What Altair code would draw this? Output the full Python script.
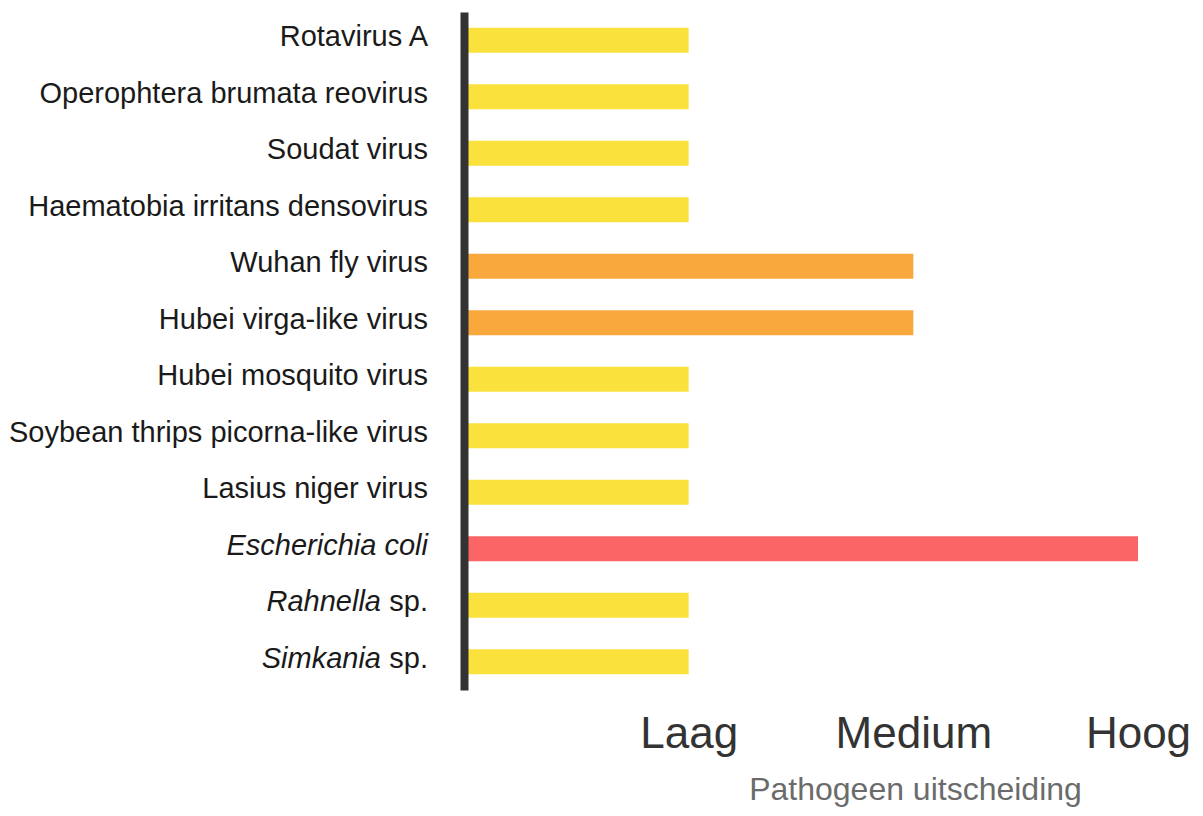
import altair as alt
import pandas as pd

# ---- data ----
categories = [
    "Rotavirus A", "Operophtera brumata reovirus", "Soudat virus",
    "Haematobia irritans densovirus", "Wuhan fly virus", "Hubei virga-like virus",
    "Hubei mosquito virus", "Soybean thrips picorna-like virus", "Lasius niger virus",
    "Escherichia coli", "Rahnella sp.", "Simkania sp.",
]
italic_part = ["", "", "", "", "", "", "", "", "", "Escherichia coli", "Rahnella", "Simkania"]
plain_part = [
    "Rotavirus A", "Operophtera brumata reovirus", "Soudat virus",
    "Haematobia irritans densovirus", "Wuhan fly virus", "Hubei virga-like virus",
    "Hubei mosquito virus", "Soybean thrips picorna-like virus", "Lasius niger virus",
    "", "sp.", "sp.",
]
levels = [1, 1, 1, 1, 2, 2, 1, 1, 1, 3, 1, 1]
level_labels = ["Laag", "Medium", "Hoog"]
level_colors = ["#FAE13C", "#F9A83E", "#FB6566"]

df = pd.DataFrame({
    "name": categories,
    "italic": italic_part,
    "plain": plain_part,
    "level": levels,
    "levelName": [level_labels[v - 1] for v in levels],
})

font = "Liberation Sans"
fsize = 29
yscale = alt.Scale(domain=categories, paddingInner=0, paddingOuter=0)

bars = alt.Chart(df).mark_bar(size=25).encode(
    x=alt.X(
        "level:Q",
        scale=alt.Scale(domain=[0, 3], nice=False, zero=True),
        axis=alt.Axis(
            values=[1, 2, 3],
            labelExpr="['" + "','".join(level_labels) + "'][datum.value - 1]",
            domain=False, ticks=False, grid=False,
            labelFont=font, labelFontSize=44, labelColor="#333333",
            labelPadding=22, labelBaseline="top",
            labelFlush=False, labelOverlap=False,
            title="Pathogeen uitscheiding", titleFont=font, titleFontSize=32,
            titleFontWeight="normal", titleColor="#6b6b6b",
            titlePadding=18, titleX=451, titleAlign="center",
        ),
    ),
    y=alt.Y(
        "name:N", scale=yscale, sort=categories,
        axis=alt.Axis(
            labels=False, ticks=False, grid=False, title=None,
            domain=True, domainColor="#333333", domainWidth=8, zindex=1,
        ),
    ),
    color=alt.Color(
        "levelName:N",
        scale=alt.Scale(domain=level_labels, range=level_colors),
        legend=None,
    ),
)

def text_layer(filt, field, xpos, italic):
    kw = dict(align="right", baseline="middle", font=font, fontSize=fsize,
              color="#1a1a1a", dy=-3)
    if italic:
        kw["fontStyle"] = "italic"
    return alt.Chart(df).transform_filter(filt).mark_text(**kw).encode(
        y=alt.Y("name:N", scale=yscale, sort=categories),
        x=alt.value(xpos),
        text=f"{field}:N",
    )

plain_full = text_layer("datum.italic == ''", "plain", -36, False)
italic_full = text_layer("datum.italic != '' && datum.plain == ''", "italic", -36, True)
suffix = text_layer("datum.italic != '' && datum.plain != ''", "plain", -36, False)
genus = text_layer("datum.italic != '' && datum.plain != ''", "italic", -83, True)

chart = alt.layer(bars, plain_full, italic_full, suffix, genus).properties(
    width=674, height=678,
    autosize=alt.AutoSizeParams(type="none"),
    padding={"left": 456, "top": 4, "right": 57, "bottom": 118},
).configure_view(stroke=None)

chart.save("out.html", embed_options={"renderer": "svg", "actions": False})
